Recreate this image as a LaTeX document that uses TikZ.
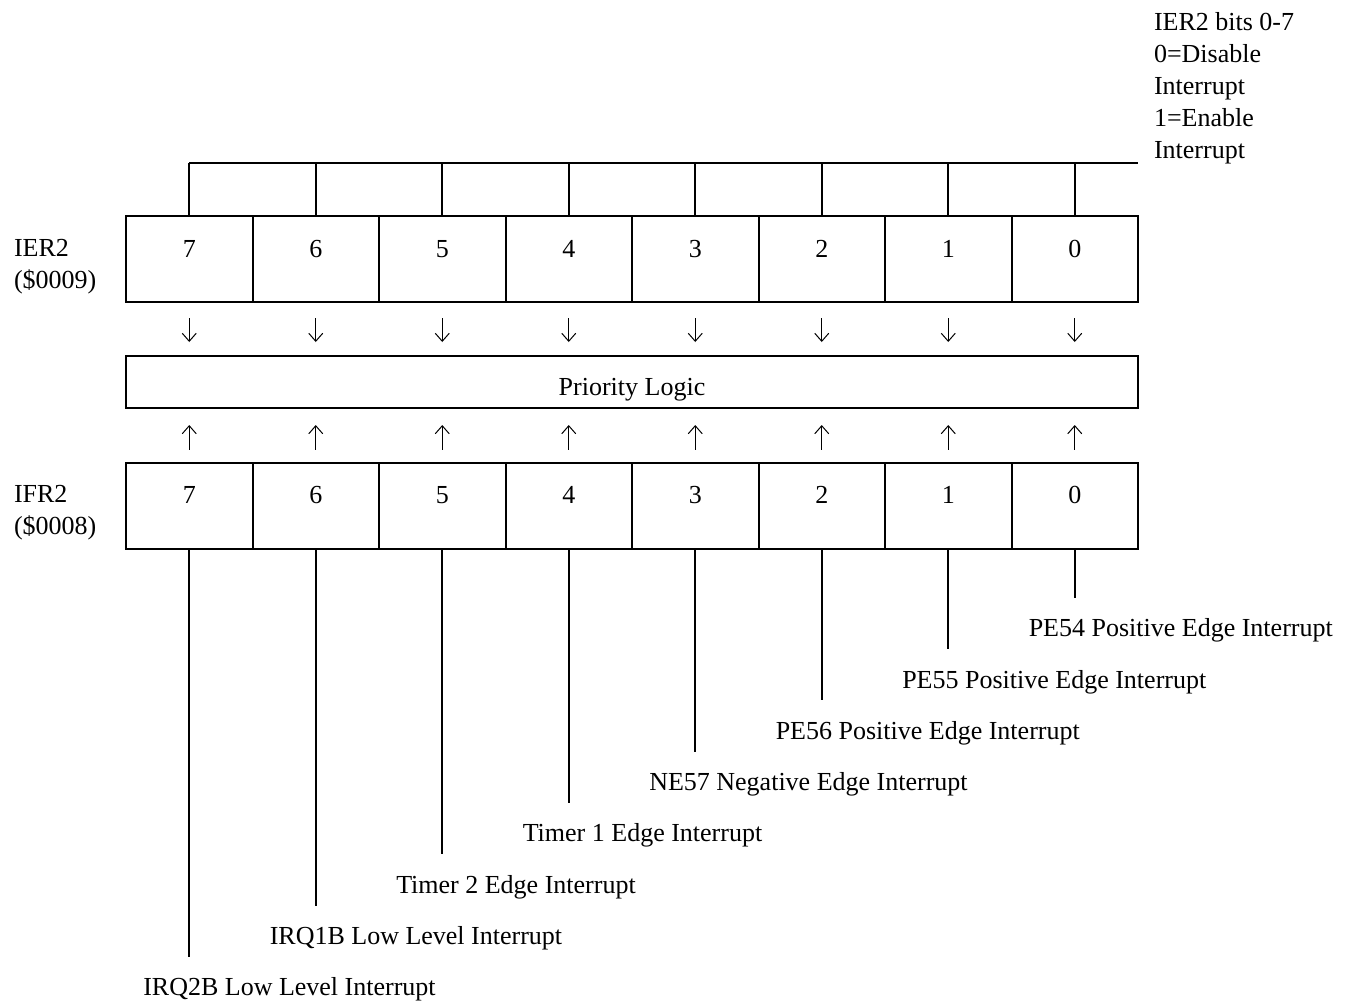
\documentclass[tikz,border=0pt]{standalone}
\usepackage{fontspec}
\setmainfont{Liberation Serif}
\usetikzlibrary{arrows.meta,calc}

\begin{document}
\begin{tikzpicture}[x=0.5pt,y=-0.5pt,line width=1pt,
    every node/.style={font=\fontsize{13}{16}\selectfont,align=left},
    cell/.style={draw,minimum width=63.25pt,minimum height=43pt,outer sep=0pt,text height=9pt,text depth=11pt,align=center},
    bar/.style={draw,minimum width=506pt,minimum height=26pt,outer sep=0pt,text height=13pt,text depth=0pt},
    txt/.style={inner sep=0pt},
    lbl/.style={anchor=west,inner xsep=0pt,inner ysep=10pt},
    dn/.style={-{Straight Barb[length=4pt,width=7pt]},line width=0.5pt,shorten <=8pt,shorten >=7pt},
    up/.style={-{Straight Barb[length=4pt,width=7pt]},line width=0.5pt,shorten <=6.5pt,shorten >=8.5pt}]
    \useasboundingbox (0,0) rectangle (1349,1003);
    % registers
    \foreach \b in {0,...,7}{
      \node[cell] (e\b) at ({189.25+(7-\b)*126.5},259) {\b};
      \node[cell] (i\b) at ({189.25+(7-\b)*126.5},505.5) {\b};
    }
    \node[bar] (prio) at (632,382) {Priority Logic};
    \node[txt,anchor=north west] (ierlbl) at (13,238) {IER2\\(\$0009)};
    \node[txt,anchor=north west] (ifrlbl) at (13,484) {IFR2\\(\$0008)};
    \node[txt,anchor=north west] (note) at (1153,11) {IER2 bits 0-7\\0=Disable\\Interrupt\\1=Enable\\Interrupt};
    \coordinate (bus) at (e0.east |- 0,163);
    \draw (e7.north |- bus) -- (bus);
    \foreach \b in {0,...,7}{
      \draw (e\b.north) -- (e\b.north |- bus);
      \draw[dn] (e\b.south) -- (e\b.south |- prio.north);
      \draw[up] (i\b.north) -- (i\b.north |- prio.south);
    }
    % interrupt sources
    \foreach \b/\t in {0/PE54 Positive Edge Interrupt,1/PE55 Positive Edge Interrupt,2/PE56 Positive Edge Interrupt,3/NE57 Negative Edge Interrupt,4/Timer 1 Edge Interrupt,5/Timer 2 Edge Interrupt,6/IRQ1B Low Level Interrupt,7/IRQ2B Low Level Interrupt}{
      \node[lbl] (l\b) at ($(i\b.south)+(-47,{82+\b*51.3})$) {\t};
      \draw (i\b.south) -- (i\b.south |- l\b.north);
    }
\end{tikzpicture}
\end{document}
